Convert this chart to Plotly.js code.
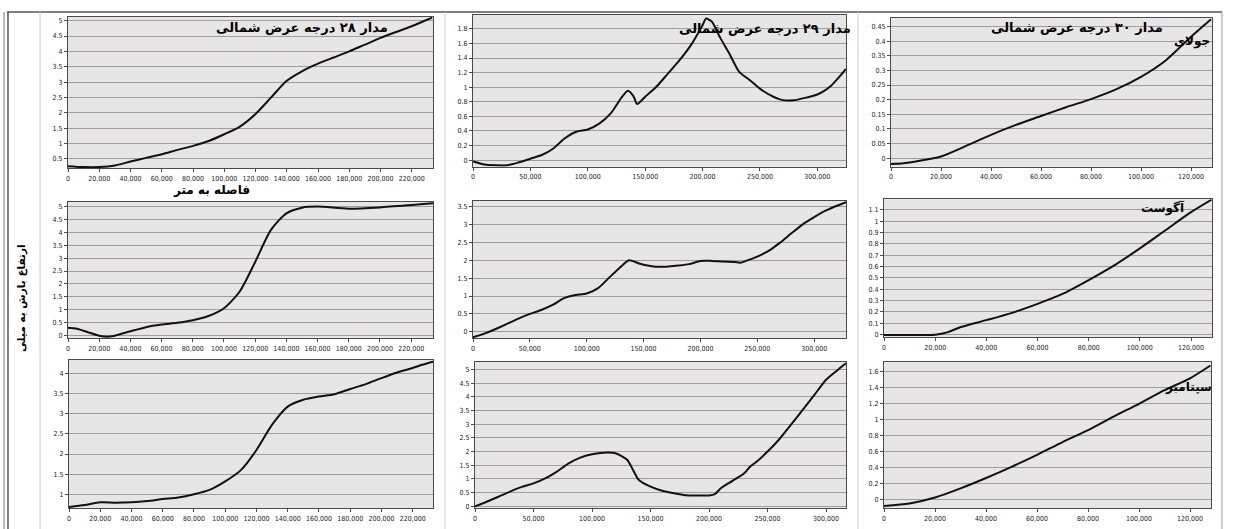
<!DOCTYPE html>
<html>
<head>
<meta charset="utf-8">
<script src="https://cdn.plot.ly/plotly-3.0.1.min.js"></script>
<style>
  html, body { margin: 0; padding: 0; background: #ffffff; }
  #chart { width: 1233px; height: 529px; }
</style>
</head>
<body>
<div id="chart"></div>
<script>
// Distance along each latitude (m) and rainfall height, per latitude and month.
// Latitude 28° N
const dist28Jul = [0,10000,20000,30000,40000,50000,60000,70000,80000,90000,100000,110000,120000,130000,140000,150000,160000,170000,180000,190000,200000,210000,220000,226000,233000];
const rain28Jul = [0.26,0.23,0.23,0.28,0.41,0.53,0.65,0.79,0.92,1.08,1.3,1.55,1.96,2.5,3.04,3.36,3.6,3.8,4.0,4.22,4.44,4.63,4.82,4.95,5.1];
const dist28Aug = [0,5000,10000,20000,25000,30000,40000,50000,60000,70000,80000,90000,100000,110000,120000,130000,140000,150000,160000,180000,200000,220000,226000,234000];
const rain28Aug = [0.31,0.28,0.19,0.0,-0.04,0.0,0.17,0.33,0.43,0.5,0.6,0.76,1.06,1.7,2.85,4.08,4.73,4.95,4.99,4.91,4.96,5.05,5.08,5.12];
const dist28Sep = [0,10000,20000,30000,40000,50000,60000,70000,80000,90000,100000,110000,120000,130000,140000,150000,160000,170000,180000,190000,200000,210000,220000,226000,233000];
const rain28Sep = [0.68,0.73,0.8,0.79,0.8,0.83,0.88,0.92,1.0,1.11,1.32,1.6,2.1,2.73,3.18,3.35,3.43,3.49,3.62,3.74,3.89,4.03,4.14,4.22,4.3];

// Latitude 29° N
const dist29Jul = [0,5000,10000,20000,30000,40000,50000,60000,70000,80000,90000,100000,110000,120000,130000,135000,140000,143000,150000,160000,170000,180000,190000,200000,203000,208000,215000,224000,232000,241000,250000,259000,268000,279000,291000,300000,306000,312000,318000,325000];
const rain29Jul = [-0.02,-0.04,-0.06,-0.07,-0.07,-0.03,0.02,0.07,0.16,0.3,0.39,0.42,0.5,0.64,0.87,0.95,0.87,0.77,0.87,1.01,1.19,1.37,1.58,1.85,1.94,1.9,1.69,1.44,1.21,1.1,0.98,0.89,0.83,0.82,0.86,0.9,0.95,1.02,1.12,1.25];
const dist29Aug = [0,10000,25000,40000,50000,60000,70000,80000,90000,100000,110000,120000,130000,137000,140000,150000,160000,170000,180000,190000,200000,210000,220000,230000,235000,240000,250000,260000,270000,280000,290000,300000,310000,320000,328000];
const rain29Aug = [-0.15,-0.05,0.15,0.37,0.5,0.61,0.75,0.94,1.03,1.07,1.22,1.52,1.82,2.0,1.98,1.87,1.82,1.82,1.85,1.89,1.98,1.98,1.96,1.95,1.93,1.98,2.1,2.26,2.49,2.75,3.0,3.2,3.38,3.52,3.62];
const dist29Sep = [0,10000,20000,30000,40000,50000,60000,70000,80000,90000,100000,110000,120000,130000,135000,140000,150000,160000,170000,180000,190000,200000,205000,210000,220000,230000,235000,240000,250000,260000,270000,280000,290000,300000,310000,317000];
const rain29Sep = [0,0.17,0.35,0.54,0.71,0.84,1.02,1.27,1.57,1.78,1.9,1.96,1.94,1.7,1.33,0.96,0.72,0.57,0.48,0.41,0.4,0.4,0.45,0.66,0.93,1.21,1.45,1.61,2.0,2.45,2.98,3.52,4.07,4.62,4.98,5.22];

// Latitude 30° N
const dist30Jul = [0,5000,10000,20000,30000,40000,50000,60000,70000,80000,90000,100000,110000,120000,128000];
const rain30Jul = [-0.02,-0.017,-0.011,0.006,0.042,0.08,0.114,0.144,0.174,0.202,0.235,0.278,0.335,0.415,0.475];
const dist30Aug = [0,10000,20000,25000,30000,40000,50000,60000,70000,80000,90000,100000,110000,120000,128000];
const rain30Aug = [-0.005,-0.005,-0.003,0.02,0.065,0.126,0.19,0.27,0.36,0.48,0.61,0.76,0.92,1.08,1.19];
const dist30Sep = [0,10000,20000,30000,40000,50000,60000,70000,80000,90000,100000,110000,120000,128000];
const rain30Sep = [-0.08,-0.05,0.025,0.14,0.27,0.41,0.56,0.72,0.87,1.04,1.2,1.37,1.52,1.68];

// Text drawn on the figure
const latTitles = ['مدار ۲۸ درجه عرض شمالی', 'مدار ۲۹ درجه عرض شمالی', 'مدار ۳۰ درجه عرض شمالی'];
const monthLabels = ['جولای', 'آگوست', 'سپتامبر'];
const xAxisLabel = 'فاصله به متر';
const yAxisLabel = 'ارتفاع بارش به میلی';

const W = 1233, H = 529;
const xd = (a, b) => [a / W, b / W];
const yd = (top, bot) => [1 - bot / H, 1 - top / H];

// Grid of panels: row = month, column = latitude
const panels = [
  {x: dist28Jul, y: rain28Jul, px: [68, 433],  py: [16.7, 168.3],  xr: [0, 233600], yr: [0.19, 5.13],   dx: 20000, dy: 0.5},
  {x: dist29Jul, y: rain29Jul, px: [473, 846], py: [15, 166.7],    xr: [0, 325000], yr: [-0.09, 1.99],  dx: 50000, dy: 0.2},
  {x: dist30Jul, y: rain30Jul, px: [891, 1212],py: [18.3, 166.7],  xr: [0, 128400], yr: [-0.029, 0.478],dx: 20000, dy: 0.05},
  {x: dist28Aug, y: rain28Aug, px: [68, 433],  py: [201.7, 338.3], xr: [0, 234000], yr: [-0.1, 5.18],   dx: 20000, dy: 0.5},
  {x: dist29Aug, y: rain29Aug, px: [473, 846], py: [200.7, 338.3], xr: [0, 328000], yr: [-0.18, 3.66],  dx: 50000, dy: 0.5},
  {x: dist30Aug, y: rain30Aug, px: [884, 1212],py: [199.3, 337.3], xr: [0, 128200], yr: [-0.026, 1.194],dx: 20000, dy: 0.1},
  {x: dist28Sep, y: rain28Sep, px: [69, 433],  py: [360, 508.3],   xr: [0, 233000], yr: [0.65, 4.34],   dx: 20000, dy: 0.5},
  {x: dist29Sep, y: rain29Sep, px: [475, 846], py: [361.7, 508.3], xr: [0, 317000], yr: [-0.07, 5.28],  dx: 50000, dy: 0.5},
  {x: dist30Sep, y: rain30Sep, px: [884, 1211],py: [362.3, 508.3], xr: [0, 128200], yr: [-0.11, 1.72],  dx: 20000, dy: 0.2}
];

const tickFont = {family: 'Liberation Sans Narrow, DejaVu Sans Condensed, Arial Narrow, sans-serif', size: 7, color: '#222222'};
const faFont = (size) => ({family: 'DejaVu Sans, Noto Sans, sans-serif', size: size, color: '#000000', weight: 'bold'});

const traces = [];
const layout = {
  width: W, height: H,
  margin: {l: 0, r: 0, t: 0, b: 0},
  paper_bgcolor: '#ffffff',
  plot_bgcolor: '#e6e6e6',
  showlegend: false,
  shapes: [],
  annotations: []
};

panels.forEach((p, i) => {
  const n = i === 0 ? '' : String(i + 1);
  traces.push({
    type: 'scatter', mode: 'lines',
    x: p.x, y: p.y,
    xaxis: 'x' + n, yaxis: 'y' + n,
    line: {color: '#111111', width: 2, shape: 'spline', smoothing: 0.7},
    hoverinfo: 'skip'
  });
  layout['xaxis' + n] = {
    domain: xd(p.px[0], p.px[1]), anchor: 'y' + n,
    range: p.xr, dtick: p.dx, tick0: 0, tickformat: ',d',
    showgrid: false, zeroline: false,
    showline: true, linecolor: '#4a4a4a', linewidth: 1, mirror: true,
    ticks: 'outside', ticklen: 3, tickcolor: '#4a4a4a',
    tickfont: tickFont, fixedrange: true
  };
  layout['yaxis' + n] = {
    domain: yd(p.py[0], p.py[1]), anchor: 'x' + n,
    range: p.yr, dtick: p.dy, tick0: 0,
    showgrid: true, gridcolor: '#a39b9b', gridwidth: 1, zeroline: false,
    showline: true, linecolor: '#4a4a4a', linewidth: 1, mirror: true,
    ticks: 'outside', ticklen: 3, tickcolor: '#4a4a4a',
    tickfont: tickFont, fixedrange: true
  };
});

// Frame and column separators (pixel positions converted to paper units)
const line = (x0, y0, x1, y1, color, w) => ({
  type: 'line', xref: 'paper', yref: 'paper',
  x0: x0 / W, x1: x1 / W, y0: 1 - y0 / H, y1: 1 - y1 / H,
  line: {color: color, width: w}, layer: 'below'
});
layout.shapes.push(line(7, 12, 1222, 12, '#555555', 1.5));
layout.shapes.push(line(4, 12, 4, 529, '#777777', 1));
layout.shapes.push(line(8, 12, 8, 529, '#555555', 1.5));
layout.shapes.push(line(1222, 12, 1222, 529, '#9a9a9a', 1));
layout.shapes.push(line(40, 12, 40, 529, '#c8c8c8', 1));
layout.shapes.push(line(445, 12, 445, 529, '#d0d0d0', 1));
layout.shapes.push(line(858, 12, 858, 529, '#d0d0d0', 1));

const ann = (text, x, y, size, angle) => ({
  text: text, xref: 'paper', yref: 'paper',
  x: x / W, y: 1 - y / H, xanchor: 'center', yanchor: 'middle',
  showarrow: false, font: faFont(size), textangle: angle || 0
});
layout.annotations.push(ann(latTitles[0], 302, 27, 13));
layout.annotations.push(ann(latTitles[1], 765, 29, 13));
layout.annotations.push(ann(latTitles[2], 1077, 27, 13));
layout.annotations.push(ann(monthLabels[0], 1192, 42, 12));
layout.annotations.push(ann(monthLabels[1], 1163, 208, 12));
layout.annotations.push(ann(monthLabels[2], 1188, 387, 12));
layout.annotations.push(ann(xAxisLabel, 211, 190, 12));
layout.annotations.push(ann(yAxisLabel, 21, 298, 10.5, -90));

Plotly.newPlot('chart', traces, layout, {staticPlot: true, displayModeBar: false});
</script>
</body>
</html>
